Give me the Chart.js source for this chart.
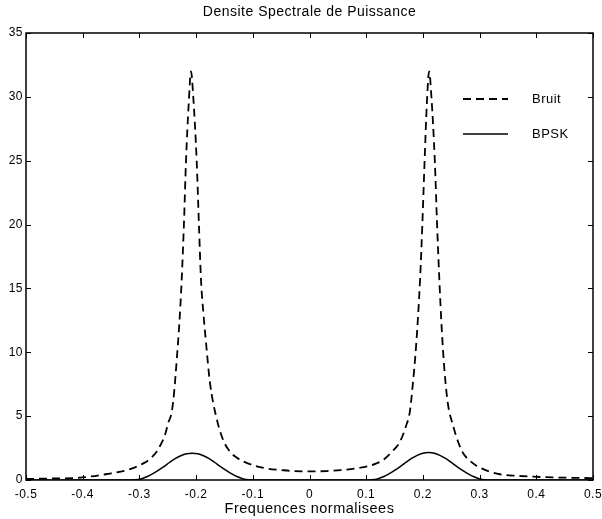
<!DOCTYPE html>
<html>
<head>
<meta charset="utf-8">
<script src="https://cdn.jsdelivr.net/npm/chart.js@4.4.1/dist/chart.umd.min.js"></script>
<style>
  html, body { margin: 0; padding: 0; background: #fff; }
</style>
</head>
<body>
<canvas id="dspChart" width="602" height="519"></canvas>
<script>
// Bruit (dashed) : normalised frequency / PSD
const bruitFreq = [
  -0.5, -0.45, -0.405, -0.36, -0.32, -0.293, -0.28, -0.27, -0.262, -0.255,
  -0.249, -0.243, -0.2385, -0.234, -0.2295, -0.2254, -0.2215, -0.2178, -0.213, -0.209,
  -0.205, -0.199, -0.195, -0.1914, -0.187, -0.183, -0.1755, -0.1637, -0.152, -0.14,
  -0.128, -0.1167, -0.095, -0.0755, -0.05, -0.0286, 0, 0.03, 0.055, 0.083,
  0.105, 0.118, 0.13, 0.145, 0.1596, 0.17, 0.177, 0.182, 0.188, 0.195,
  0.199, 0.203, 0.207, 0.211, 0.215, 0.221, 0.225, 0.229, 0.233, 0.238,
  0.244, 0.2536, 0.262, 0.271, 0.283, 0.295, 0.315, 0.336, 0.365, 0.394,
  0.43, 0.465, 0.5
];
const bruitPsd = [
  0.08, 0.12, 0.18, 0.45, 0.8, 1.3, 1.7, 2.2, 2.8, 3.5,
  4.5, 5.3, 7.0, 9.5, 12.3, 15.7, 20, 25, 29.5, 32,
  30, 25, 20, 15.7, 13, 11, 7.6, 4.8, 3.1, 2.2,
  1.75, 1.45, 1.1, 0.9, 0.78, 0.7, 0.68, 0.7, 0.78, 0.91,
  1.1, 1.3, 1.57, 2.2, 3.0, 4.2, 5.35, 7.4, 10.5, 15.7,
  20, 25, 29.5, 32, 30, 25, 20, 15.7, 12, 8.6,
  6.0, 4.2, 3.0, 2.1, 1.5, 1.1, 0.7, 0.45, 0.33, 0.26,
  0.2, 0.17, 0.15
];

// BPSK (solid)
const bpskFreq = [
  -0.5, -0.318, -0.307, -0.297, -0.287, -0.277, -0.267, -0.257, -0.247, -0.237,
  -0.227, -0.217, -0.207, -0.197, -0.187, -0.177, -0.167, -0.157, -0.147, -0.137,
  -0.127, -0.117, -0.107, -0.096, 0.1, 0.11, 0.12, 0.13, 0.14, 0.15,
  0.16, 0.17, 0.18, 0.19, 0.2, 0.21, 0.22, 0.23, 0.24, 0.25,
  0.26, 0.27, 0.28, 0.29, 0.3, 0.31, 0.32, 0.5
];
const bpskPsd = [
  0, 0, 0.01, 0.08, 0.25, 0.48, 0.75, 1.05, 1.37, 1.67,
  1.9, 2.05, 2.1, 2.05, 1.9, 1.67, 1.37, 1.05, 0.75, 0.48,
  0.25, 0.08, 0.01, 0, 0, 0.01, 0.08, 0.25, 0.48, 0.75,
  1.05, 1.38, 1.69, 1.93, 2.1, 2.15, 2.1, 1.93, 1.69, 1.38,
  1.05, 0.75, 0.48, 0.25, 0.08, 0.01, 0, 0
];

const xTickValues = [-0.5, -0.4, -0.3, -0.2, -0.1, 0, 0.1, 0.2, 0.3, 0.4, 0.5];
const xTickLabels = ["-0.5", "-0.4", "-0.3", "-0.2", "-0.1", "0", "0.1", "0.2", "0.3", "0.4", "0.5"];
const yTickValues = [0, 5, 10, 15, 20, 25, 30, 35];
const yTickLabels = ["0", "5", "10", "15", "20", "25", "30", "35"];

const TITLE = "Densite Spectrale de Puissance";
const FONT = "'Liberation Sans', Arial, Helvetica, sans-serif";

// title over the axes, box, inward ticks on all four sides, legend inside the axes
const matlabFrame = {
    id: "matlabFrame",
    beforeDraw(chart) {
        const c = chart.ctx;
        c.save();
        c.fillStyle = "#fff";
        c.fillRect(0, 0, chart.width, chart.height);
        c.restore();
        c.letterSpacing = "0.5px";
    },
    afterDraw(chart) {
        const c = chart.ctx;
        const a = chart.chartArea;
        const xs = chart.scales.x;
        const ys = chart.scales.y;
        c.save();
        c.fillStyle = "#000";
        c.font = "14px " + FONT;
        c.textAlign = "center";
        c.textBaseline = "middle";
        c.fillText(TITLE, (a.left + a.right) / 2, a.top - 21);

        c.strokeStyle = "#000";
        c.lineWidth = 1.5;
        c.strokeRect(a.left, a.top, a.right - a.left, a.bottom - a.top);
        c.lineWidth = 1;
        c.beginPath();
        xTickValues.forEach(v => {
            const px = Math.round(xs.getPixelForValue(v)) + 0.5;
            c.moveTo(px, a.bottom); c.lineTo(px, a.bottom - 5);
            c.moveTo(px, a.top); c.lineTo(px, a.top + 5);
        });
        yTickValues.forEach(v => {
            const py = Math.round(ys.getPixelForValue(v)) + 0.5;
            c.moveTo(a.left, py); c.lineTo(a.left + 5, py);
            c.moveTo(a.right, py); c.lineTo(a.right - 5, py);
        });
        c.stroke();

        // legend
        c.font = "13px " + FONT;
        c.textAlign = "left";
        chart.data.datasets.forEach((ds, i) => {
            const ly = a.top + 66 + i * 35;
            c.setLineDash(ds.borderDash || []);
            c.lineWidth = ds.borderWidth;
            c.beginPath();
            c.moveTo(a.right - 130, ly);
            c.lineTo(a.right - 85, ly);
            c.stroke();
            c.setLineDash([]);
            c.fillText(ds.label, a.right - 61, ly);
        });
        c.restore();
    }
};

const ctx = document.getElementById("dspChart").getContext("2d");

const dspChart = new Chart(ctx, {
    type: "line",
    data: {
        datasets: [{
            label: "Bruit",
            data: bruitFreq.map((f, i) => ({ x: f, y: bruitPsd[i] })),
            borderColor: "#000",
            borderWidth: 1.8,
            borderDash: [8, 5],
            pointRadius: 0,
            cubicInterpolationMode: "monotone",
            fill: false
        }, {
            label: "BPSK",
            data: bpskFreq.map((f, i) => ({ x: f, y: bpskPsd[i] })),
            borderColor: "#000",
            borderWidth: 1.5,
            pointRadius: 0,
            cubicInterpolationMode: "monotone",
            fill: false
        }]
    },
    options: {
        responsive: false,
        animation: false,
        layout: { padding: { left: 0, right: 0, top: 33, bottom: 0 } },
        plugins: {
            legend: { display: false },
            tooltip: { enabled: false },
            title: { display: false }
        },
        scales: {
            x: {
                type: "linear",
                min: -0.5,
                max: 0.5,
                afterBuildTicks: s => { s.ticks = xTickValues.map(v => ({ value: v })); },
                afterFit: s => { s.height = 39; s.paddingLeft = 0; s.paddingRight = 9; },
                grid: { display: false, drawTicks: false },
                border: { display: false },
                ticks: {
                    color: "#000",
                    font: { family: FONT, size: 12 },
                    padding: 7,
                    maxRotation: 0,
                    autoSkip: false,
                    callback: (v, i) => xTickLabels[i]
                },
                title: {
                    display: true,
                    text: "Frequences normalisees",
                    color: "#000",
                    font: { family: FONT, size: 14.5, lineHeight: 1.2 },
                    padding: { top: 0, bottom: 1 }
                }
            },
            y: {
                min: 0,
                max: 35,
                afterBuildTicks: s => { s.ticks = yTickValues.map(v => ({ value: v })); },
                afterFit: s => { s.width = 26; },
                grid: { display: false, drawTicks: false },
                border: { display: false },
                ticks: {
                    color: "#000",
                    font: { family: FONT, size: 12 },
                    padding: 3,
                    autoSkip: false,
                    callback: (v, i) => yTickLabels[i]
                }
            }
        }
    },
    plugins: [matlabFrame]
});
</script>
</body>
</html>
